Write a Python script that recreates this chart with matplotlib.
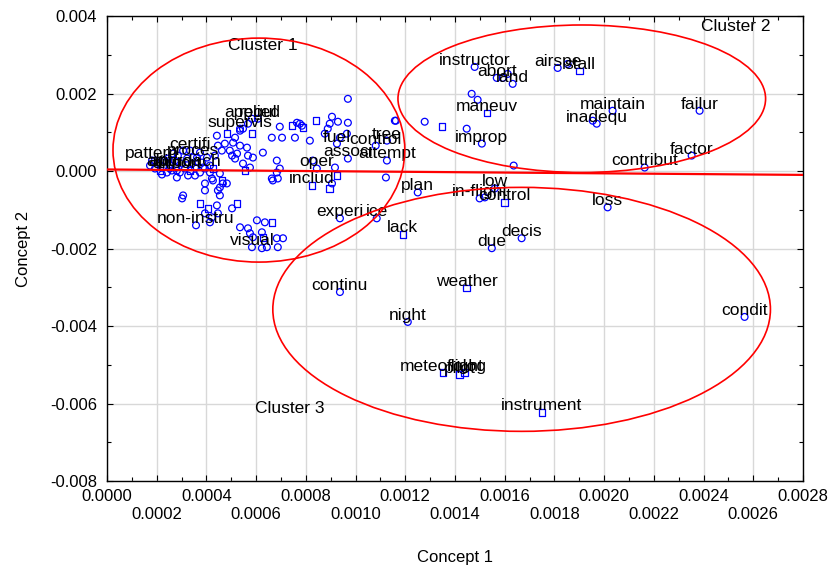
import numpy as np
import matplotlib
matplotlib.use("Agg")
import matplotlib.pyplot as plt
from matplotlib.patches import Ellipse
from matplotlib.ticker import MultipleLocator, FuncFormatter

plt.rcParams['font.family'] = ['Liberation Sans', 'DejaVu Sans']

U = 1e-4  # all coordinates below are given in units of 1e-4

# labelled terms (concept 1, concept 2) and their marker group
term_words = ['instructor', 'abort', 'land', 'airspe', 'stall', 'maneuv', 'improp',
              'maintain', 'inadequ', 'failur', 'factor', 'contribut', 'loss', 'low',
              'in-flight', 'control', 'plan', 'experi', 'ice', 'lack', 'due', 'decis',
              'continu', 'weather', 'night', 'condit', 'meteorolog', 'pilot', 'flight',
              'instrument', 'pattern', 'certifi', 'proces', 'altitud', 'approach',
              'airport', 'applied', 'regul', 'supervis', 'fuel', 'control', 'tree',
              'associ', 'attempt', 'oper', 'includ', 'non-instru', 'visual']
term_c1 = [14.79, 15.68, 16.32, 18.13, 19.01, 15.28, 15.08,
           20.34, 19.70, 23.84, 23.52, 21.63, 20.14, 15.60,
           14.99, 16.00, 12.50, 9.37, 10.85, 11.90, 15.48, 16.68,
           9.37, 14.47, 12.10, 25.65, 13.51, 14.19, 14.39,
           17.49, 1.81, 3.34, 3.46, 2.53, 3.14,
           2.81, 5.83, 6.07, 5.35, 9.25, 10.81, 11.26,
           9.69, 11.26, 8.44, 8.24, 3.58, 5.83]
term_c2 = [26.86, 24.03, 22.49, 26.60, 25.83, 15.03, 7.07,
           15.55, 12.21, 15.55, 3.98, 0.90, -9.38, -4.50,
           -7.07, -8.10, -5.53, -12.21, -12.21, -16.32, -19.92, -17.35,
           -31.23, -30.20, -38.94, -37.65, -52.04, -52.56, -52.04,
           -62.32, 2.70, 5.27, 3.47, 0.64, 0.64,
           0.13, 13.49, 13.49, 10.92, 7.07, 6.55, 7.84,
           3.21, 2.70, 0.64, -3.73, -14.01, -19.66]
term_group = ['a', 'a', 'a', 'a', 'b', 'b', 'a',
              'a', 'a', 'a', 'a', 'a', 'a', 'a',
              'a', 'b', 'a', 'a', 'a', 'b', 'a', 'a',
              'a', 'b', 'a', 'a', 'b', 'b', 'b',
              'b', 'a', 'a', 'a', 'a', 'a',
              'a', 'a', 'a', 'a', 'a', 'a', 'a',
              'a', 'a', 'a', 'b', 'a', 'a']

# unlabelled terms, group a
dots_c1 = [14.67, 14.91, 12.78, 11.58, 14.47, 18.53, 15.92, 16.12, 19.54, 16.36,
           11.22, 15.20, 9.69, 9.05, 9.29, 8.96, 9.69, 7.76, 7.84, 7.64,
           6.95, 6.63, 7.04, 7.56, 8.16, 11.62, 9.37, 6.27, 6.83, 6.95,
           6.63, 6.83, 8.28, 9.17, 9.65, 8.88, 8.76, 9.05, 4.42, 5.15,
           5.47, 5.67, 5.35, 5.03, 5.63, 5.67, 5.47, 5.75, 4.62, 4.34,
           4.46, 4.74, 4.94, 5.23, 5.87, 5.35, 5.07, 5.15, 4.54, 4.22,
           3.86, 4.14, 3.94, 4.66, 4.54, 2.81, 3.94, 4.26, 4.82, 4.46,
           4.54, 3.06, 3.02, 4.42, 4.46, 4.22, 3.94, 5.03, 4.14, 5.35,
           5.67, 6.03, 6.35, 5.75, 5.87, 6.23, 6.83, 7.08, 6.23, 6.43,
           6.87, 6.87, 6.67, 1.73, 1.93, 2.05, 2.25, 2.33, 2.41, 2.53,
           2.61, 2.73, 2.77, 2.93, 3.02, 3.22, 3.42, 3.54, 3.62, 3.74,
           3.82, 3.94, 4.02, 4.14, 1.93, 2.21, 2.45, 2.85, 3.26, 3.54,
           3.06, 2.65, 3.74]
dots_c2 = [19.92, 18.38, 12.72, 12.98, 10.92, 27.63, 24.03, 25.06, 12.98, 1.41,
           -1.67, -6.81, 18.63, 14.01, 12.72, 12.21, 12.46, 12.21, 11.69, 12.46,
           11.44, 8.61, 8.61, 8.61, 7.84, 12.98, 8.61, 4.75, 2.70, 0.64,
           -1.93, -0.39, 2.70, 0.90, 9.64, 10.92, 9.64, -3.21, 9.12, 8.61,
           10.92, 12.21, 6.55, 3.98, 6.04, 3.98, 1.93, 0.90, 5.27, 3.98,
           6.55, 7.07, 5.27, 4.50, 3.47, 10.41, 7.32, 3.21, -0.64, -1.93,
           0.90, 1.41, -3.21, -3.21, -4.24, -1.67, -5.01, -2.44, -3.21, -5.01,
           -6.30, -6.30, -7.07, -8.87, -10.92, -11.95, -10.92, -9.64, -13.24, -14.52,
           -14.78, -12.72, -13.24, -16.06, -17.09, -15.81, -17.35, -17.35, -19.92, -19.66,
           -19.66, -1.93, -2.44, 1.41, 0.64, 2.18, 1.16, 2.70, -0.39, 1.41,
           0.13, 2.70, 0.90, -0.39, 1.93, 3.21, 1.93, 0.90, 3.47, -0.39,
           2.18, 0.64, 3.47, -0.39, 2.70, -0.90, 3.21, 3.98, -1.16, -1.16,
           5.27, 4.50, 4.75]

# unlabelled terms, group b
box_c1 = [4.82, 5.83, 7.44, 8.96, 3.74, 5.23, 13.47, 8.40, 6.63, 6.27,
          4.26, 2.13, 3.34, 4.62, 5.55, 7.88, 9.25, 4.06]
box_c2 = [9.64, 9.64, 11.69, -4.50, -8.35, -8.35, 11.44, 12.98, -13.24, -17.09,
          0.64, 0.13, 0.13, -2.44, 0.13, 11.18, -1.16, -9.64]

# cluster ellipses: centre, width, height
clusters = ['Cluster 1', 'Cluster 2', 'Cluster 3']
clu_cx = [6.11, 19.10, 16.68]
clu_cy = [5.40, 18.65, -35.70]
clu_w = [11.74, 14.79, 20.02]
clu_h = [57.80, 38.07, 62.96]

# separating line
line_c1 = [0.0, 28.0]
line_c2 = [0.4, -1.0]

blue = '#0000ff'
red = '#ff0000'

fig = plt.figure(figsize=(8.31, 5.70), dpi=100)
ax = fig.add_axes([0.1288, 0.1561, 0.8375, 0.8158])

ax.set_xlim(0, 0.0028)
ax.set_ylim(-0.008, 0.004)

ax.xaxis.set_major_locator(MultipleLocator(0.0002))
ax.xaxis.set_minor_locator(MultipleLocator(0.0001))
ax.yaxis.set_major_locator(MultipleLocator(0.002))
ax.yaxis.set_minor_locator(MultipleLocator(0.001))


def xfmt(v, pos):
    k = int(round(v / 0.0002))
    s = f'{round(v, 6) + 0.0:.4f}'
    return s if k % 2 == 0 else '\n' + s


def yfmt(v, pos):
    return f'{round(v, 6) + 0.0:.3f}'


ax.xaxis.set_major_formatter(FuncFormatter(xfmt))
ax.yaxis.set_major_formatter(FuncFormatter(yfmt))
ax.tick_params(which='both', direction='in', top=True, right=True,
               width=0.8, labelsize=12)
ax.tick_params(which='major', length=4)
ax.tick_params(which='minor', length=3)
ax.tick_params(axis='x', pad=6)
ax.tick_params(axis='y', pad=7)
ax.grid(True, which='major', color='#d8d8d8', lw=1.0)
ax.set_axisbelow(True)
for sp in ax.spines.values():
    sp.set_linewidth(1.0)
    sp.set_color('black')

ax.scatter(np.array(dots_c1) * U, np.array(dots_c2) * U, s=24, marker='o',
           facecolors='none', edgecolors=blue, linewidths=0.9, zorder=3)
ax.scatter(np.array(box_c1) * U, np.array(box_c2) * U, s=22, marker='s',
           facecolors='none', edgecolors=blue, linewidths=0.9, zorder=3)

shape = {'a': 'o', 'b': 's'}
tx = np.array(term_c1) * U
ty = np.array(term_c2) * U
for g in ('a', 'b'):
    m = np.array(term_group) == g
    ax.scatter(tx[m], ty[m], s=24 if g == 'a' else 22, marker=shape[g],
               facecolors='none', edgecolors=blue, linewidths=0.9, zorder=3)

for w, x, y in zip(term_words, tx, ty):
    ax.annotate(w, (x, y), xytext=(0, 1.5), textcoords='offset points',
                ha='center', va='baseline', fontsize=12.5, color='black', zorder=4)

for cx, cy, w, h in zip(clu_cx, clu_cy, clu_w, clu_h):
    ax.add_patch(Ellipse((cx * U, cy * U), w * U, h * U, fill=False,
                         ec=red, lw=1.2, zorder=5))

ax.plot(np.array(line_c1) * U, np.array(line_c2) * U, color=red, lw=1.6, zorder=5)

ax.text(6.27 * U, 32.3 * U, clusters[0], ha='center', va='center', fontsize=12.5)
ax.text(25.3 * U, 37.4 * U, clusters[1], ha='center', va='center', fontsize=12.5)
ax.text(7.36 * U, -61.3 * U, clusters[2], ha='center', va='center', fontsize=12.5)

ax.set_xlabel('Concept 1', fontsize=12, labelpad=20)
ax.set_ylabel('Concept 2', fontsize=12, labelpad=14)

fig.savefig('out.png', dpi=100)
